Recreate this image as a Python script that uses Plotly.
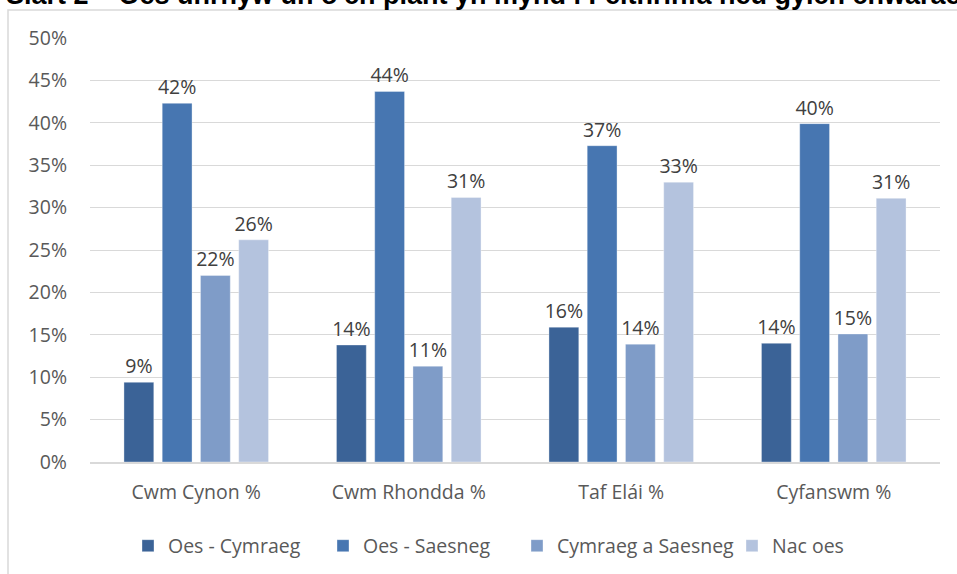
import plotly.graph_objects as go

categories = ["Cwm Cynon %", "Cwm Rhondda %", "Taf Elái %", "Cyfanswm %"]
series_names = ["Oes - Cymraeg", "Oes - Saesneg", "Cymraeg a Saesneg", "Nac oes"]
oes_cymraeg = [9.4, 13.8, 15.9, 14.0]
oes_saesneg = [42.3, 43.7, 37.3, 39.9]
cymraeg_a_saesneg = [22.0, 11.3, 13.9, 15.1]
nac_oes = [26.2, 31.2, 33.0, 31.1]
tick_vals = [0, 5, 10, 15, 20, 25, 30, 35, 40, 45, 50]
tick_text = [f"{v}%" for v in tick_vals]
title_text = "Siart 2 – Oes unrhyw un o'ch plant yn mynd i Feithrinfa neu gylch chwarae?"

colors = ["#3B6397", "#4776B1", "#7F9CC8", "#B4C3DE"]
all_series = [oes_cymraeg, oes_saesneg, cymraeg_a_saesneg, nac_oes]
legend_ids = ["legend", "legend2", "legend3", "legend4"]
legend_left_px = [128, 323, 517, 732]

FONT = "Open Sans"
FS = 19.5
fig = go.Figure()
for name, vals, col, lid in zip(series_names, all_series, colors, legend_ids):
    fig.add_trace(go.Bar(
        x=categories, y=vals, name=name, legend=lid,
        marker=dict(color=col, line=dict(color="rgba(255,255,255,0.35)", width=1)),
        text=[f"{round(v):.0f}%" for v in vals],
        textposition="outside", cliponaxis=False, constraintext="none",
        textfont=dict(family=FONT, size=FS, color="#404040"),
    ))

L, R, T, B = 90, 17, 38, 112
W, H = 957, 574
pw, ph = W - L - R, H - T - B

def px(x):
    return (x - L) / pw

def py(y):
    return (H - B - y) / ph

legend_layouts = {}
for lid, lx in zip(legend_ids, legend_left_px):
    legend_layouts[lid] = dict(orientation="h", x=px(lx), xanchor="left", y=py(546), yanchor="middle",
                               font=dict(family=FONT, size=FS, color="#595959"), itemwidth=30,
                               bgcolor="rgba(0,0,0,0)")

fig.update_layout(
    width=W, height=H,
    margin=dict(l=L, r=R, t=T, b=B, pad=0, autoexpand=False),
    paper_bgcolor="white", plot_bgcolor="white",
    barmode="group", bargap=0.28, bargroupgap=0.22,
    font=dict(family=FONT, size=FS, color="#595959"),
    showlegend=True,
    xaxis=dict(showgrid=False, showline=True, linecolor="#D9D9D9", linewidth=1.5,
               ticks="", tickfont=dict(family=FONT, size=FS, color="#595959"),
               ticklabelstandoff=12),
    yaxis=dict(range=[0, 50], tickvals=tick_vals, ticktext=tick_text,
               showgrid=True, gridcolor="#D9D9D9", gridwidth=1,
               zeroline=False, showline=False, ticks="",
               tickfont=dict(family=FONT, size=FS, color="#595959"),
               ticklabelstandoff=22),
    shapes=[dict(type="rect", xref="paper", yref="paper",
                 x0=px(8), x1=px(965), y0=py(585), y1=py(10),
                 line=dict(color="#D9D9D9", width=1.5), fillcolor="rgba(0,0,0,0)", layer="below")],
    annotations=[dict(text=f"<b>{title_text}</b>", xref="paper", yref="paper",
                      x=px(4), y=py(12.5), xanchor="left", yanchor="bottom",
                      showarrow=False, font=dict(family="Liberation Sans", size=27, color="#000000"))],
    **legend_layouts,
)

fig.write_html("out.html", config={"displayModeBar": False},
               post_script="document.body.style.margin='0';document.body.style.padding='0';")
